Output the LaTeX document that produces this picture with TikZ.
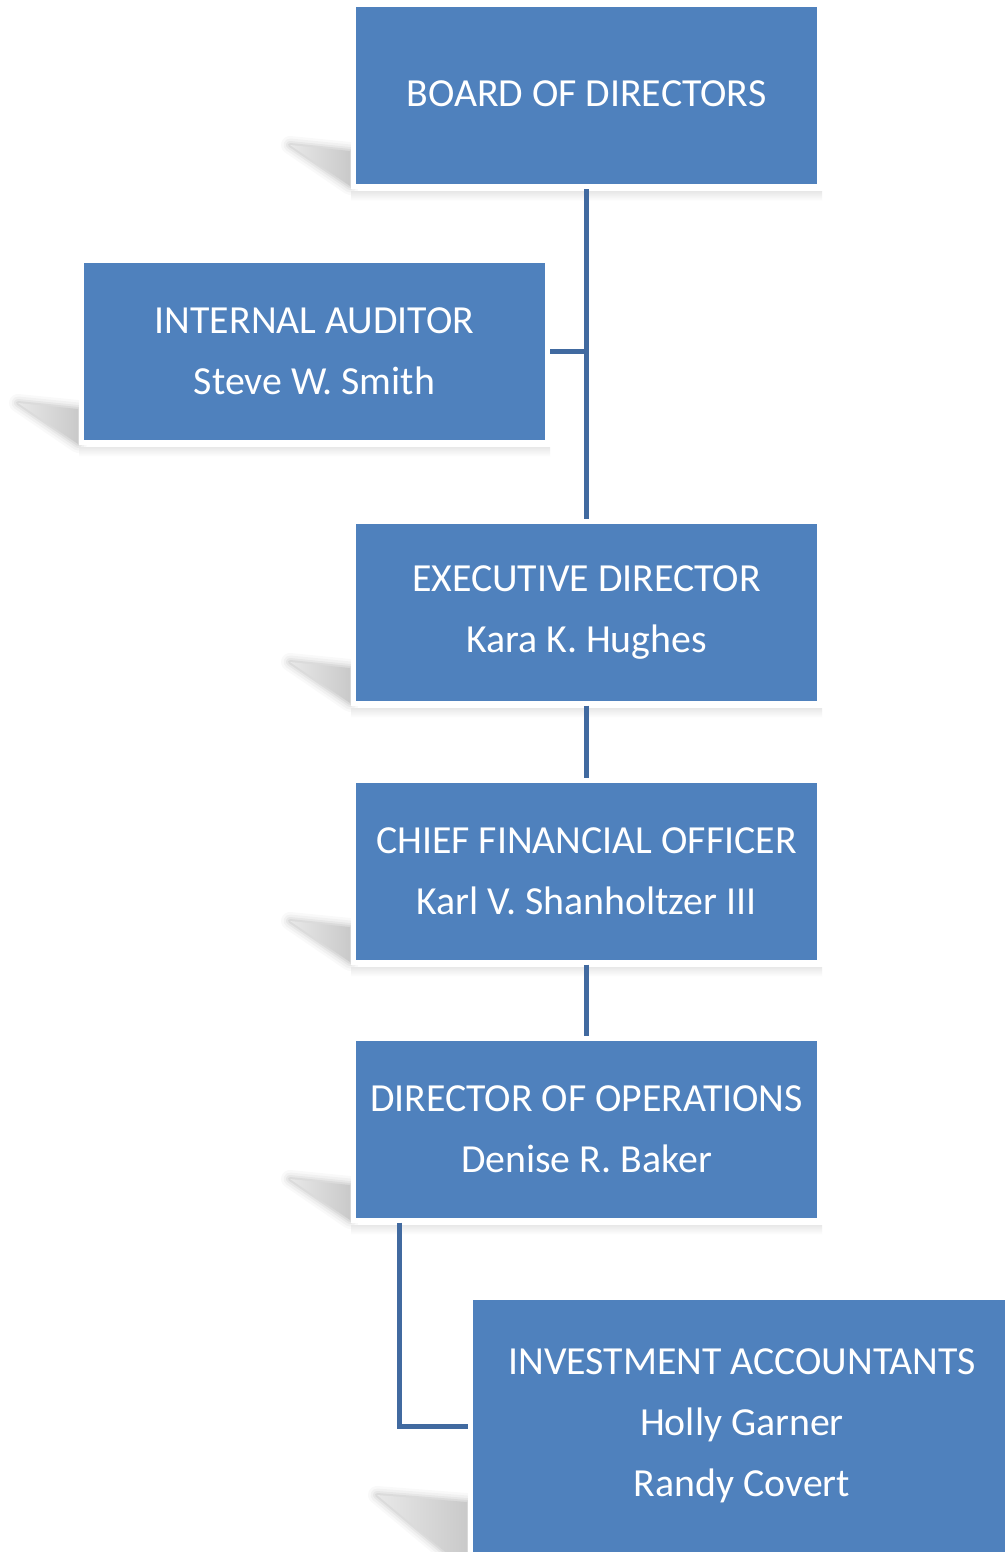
\documentclass[tikz,border=0pt]{standalone}
\usepackage{fontspec}
\setmainfont{Carlito}
\begin{document}
\begin{tikzpicture}[x=0.5pt,y=-0.5pt]
\definecolor{boxblue}{RGB}{79,129,189}
\definecolor{lineblue}{RGB}{65,106,160}
\tikzset{
  orgbox/.style={rectangle, fill=boxblue, draw=white, line width=2.5pt,
    minimum width=233pt, minimum height=91pt, inner sep=0pt, text=white,
    align=center, font=\fontsize{19.9}{30.5}\selectfont},
  link/.style={draw=lineblue, line width=2.5pt},
  refl/.style={top color=black!9, bottom color=white, draw=none}
}
\newcommand\shwedge[3]{%
  \foreach \w/\o in {18/0.025,13/0.03,8/0.04,4/0.05}{%
    \draw[black, opacity=\o, line width=\w*0.5pt, line join=round] #1 -- #2 -- #3 -- cycle;}
  \shade[left color=black!9, right color=black!21] #1 -- #2 -- #3 -- cycle;}
\useasboundingbox (0,0) rectangle (1005,1552);
\clip (0,0) rectangle (1005,1552);
\fill[white] (0,0) rectangle (1005,1552);
% shadows
\shwedge{(290,145)}{(350,151)}{(350,186)}
\shwedge{(18,403)}{(78,409)}{(78,444)}
\shwedge{(290,662)}{(350,668)}{(350,703)}
\shwedge{(290,921)}{(350,927)}{(350,962)}
\shwedge{(290,1179)}{(350,1185)}{(350,1220)}
\shwedge{(377,1495)}{(467,1502)}{(467,1570)}
% boxes
\node[orgbox] (board) at (586.5,95.5) {\raisebox{1.5pt}{BOARD OF DIRECTORS}};
\node[orgbox] (aud) at (314.5,351) {INTERNAL AUDITOR\\Steve W. Smith};
\node[orgbox] (exec) at (586.5,612) {EXECUTIVE DIRECTOR\\Kara K. Hughes};
\node[orgbox] (cfo) at (586.5,871) {CHIEF FINANCIAL OFFICER\\Karl V. Shanholtzer III};
\node[orgbox] (ops) at (586.5,1129) {DIRECTOR OF OPERATIONS\\Denise R. Baker};
\node[orgbox, minimum width=272pt, minimum height=129pt] (inv) at (742,1426)
  {INVESTMENT ACCOUNTANTS\\Holly Garner\\Randy Covert};
% reflections
\foreach \b in {board,aud,exec,cfo,ops}{
  \shade[refl] ([yshift=-1.3pt]\b.south west) rectangle ([yshift=-6pt]\b.south east);}
% connectors
\draw[link] (board.south) -- (exec.north);
\draw[link] (aud.east) -- (aud.east -| board.south);
\draw[link] (exec.south) -- (cfo.north);
\draw[link] (cfo.south) -- (ops.north);
\coordinate (opsdrop) at ([xshift=24pt]ops.south west);
\draw[link] (opsdrop) |- (inv.west);
\end{tikzpicture}
\end{document}
